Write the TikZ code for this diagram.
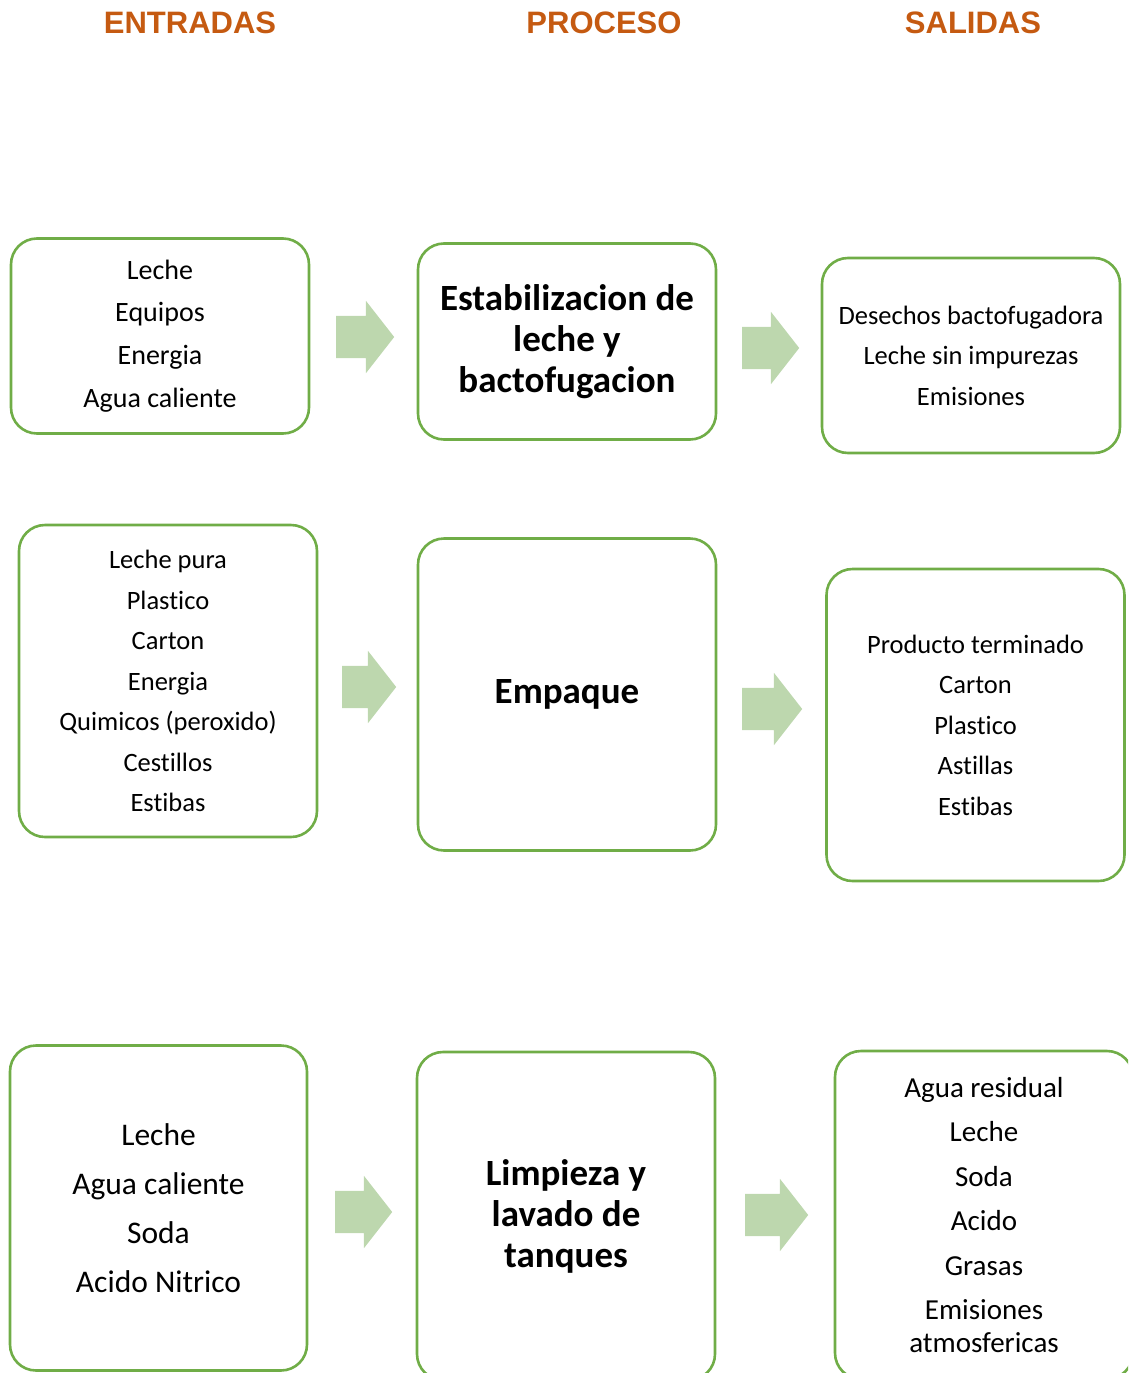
\documentclass[tikz,border=0pt]{standalone}
\usepackage{fontspec}
\setmainfont{Carlito}[Ligatures=NoCommon]
\newfontfamily\headfont{Liberation Sans}
\usetikzlibrary{shapes.arrows,positioning}
\definecolor{provgreen}{RGB}{112,173,71}
\definecolor{provlight}{RGB}{189,215,174}
\definecolor{provorange}{RGB}{197,90,17}

\begin{document}
\begin{tikzpicture}[x=1pt,y=-1pt,
  caja/.style={draw=provgreen,line width=2.6pt,rounded corners=26pt,align=center,
    minimum width=298pt,inner sep=0pt,font=\fontsize{26.5}{40.5}\selectfont},
  proceso/.style={caja,font=\fontsize{37}{41}\selectfont\bfseries},
  flecha/.style={single arrow,fill=provlight,draw=none,inner xsep=0pt,inner ysep=21pt,
    single arrow head extend=15pt,single arrow tip angle=104,minimum height=58pt,anchor=tail},
  titulo/.style={text=provorange,font=\headfont\fontsize{31}{31}\selectfont\bfseries}]

\useasboundingbox (0,0) rectangle (1128,1373);
\clip (0,0) rectangle (1128,1373);

% headers
\node[titulo] (hin) at (190,23) {ENTRADAS};
\node[titulo] (hpro) at (604,23) {PROCESO};
\node[titulo] (hout) at (973,23) {SALIDAS};

% row 1
\node[caja,minimum height=195pt,font=\fontsize{28}{42.7}\selectfont] (in1) at (160,336) {Leche\\Equipos\\Energia\\Agua caliente};
\node[proceso,minimum height=196pt] (p1) at (567,341.5) {Estabilizacion de\\leche y\\bactofugacion};
\node[caja,minimum height=195pt] (out1) at (971,355.5) {Desechos bactofugadora\\Leche sin impurezas\\Emisiones};
\node[flecha] (a1) at (336,337) {};
\node[flecha,minimum height=57pt] (a2) at (742,348) {};

% row 2
\node[caja,minimum height=312pt] (in2) at (168,681) {Leche pura\\Plastico\\Carton\\Energia\\Quimicos (peroxido)\\Cestillos\\Estibas};
\node[proceso,minimum height=312pt] (p2) at (567,694.5) {Empaque};
\node[caja,minimum height=312pt] (out2) at (975.5,725) {Producto terminado\\Carton\\Plastico\\Astillas\\Estibas};
\node[flecha,minimum height=54pt] (a3) at (342,687) {};
\node[flecha,minimum height=60pt] (a4) at (742,709) {};

% row 3
\node[caja,minimum width=297pt,minimum height=325pt,font=\fontsize{31.5}{49}\selectfont] (in3) at (158.5,1208) {Leche\\Agua caliente\\Soda\\Acido Nitrico};
\node[proceso,minimum height=328pt] (p3) at (566,1216) {Limpieza y\\lavado de\\tanques};
\node[caja,minimum height=328pt,font=\fontsize{29}{44.5}\selectfont] (out3) at (984,1215) {Agua residual\\Leche\\Soda\\Acido\\Grasas\\Emisiones\\[-11.5pt]atmosfericas};
\node[flecha,minimum height=57pt] (a5) at (335,1212) {};
\node[flecha,minimum height=63pt] (a6) at (745,1215) {};
\end{tikzpicture}
\end{document}
